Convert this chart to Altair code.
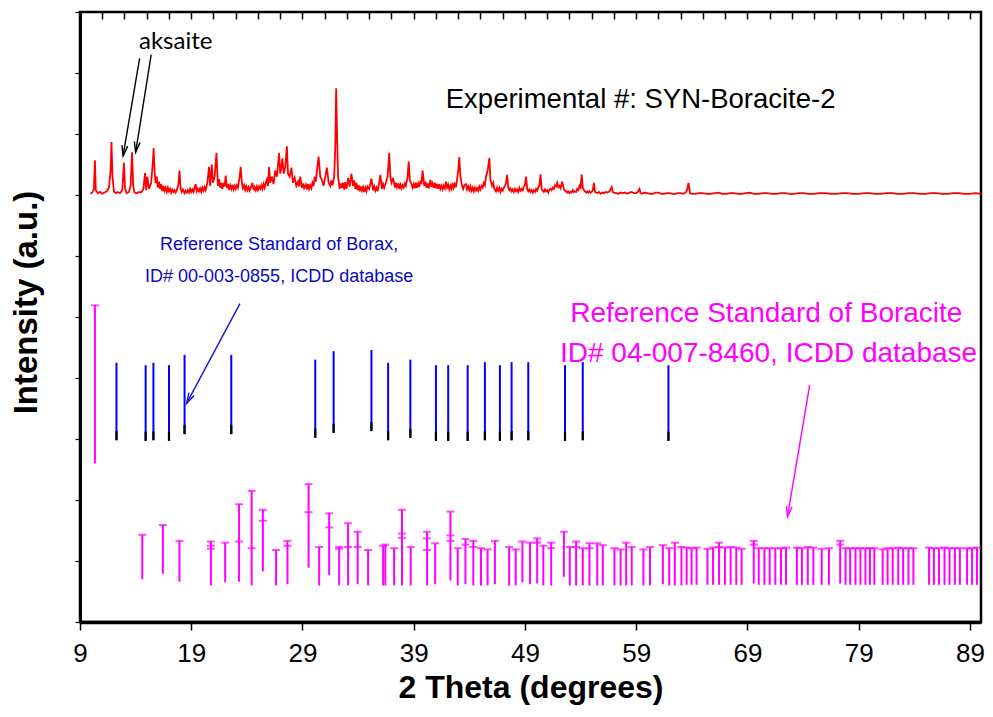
import math
import altair as alt
import pandas as pd

# ---------------- data ----------------
X_DOMAIN = [9, 90]
Y_DOMAIN = [0, 10]
x_major_ticks = [9, 19, 29, 39, 49, 59, 69, 79, 89]
x_minor_ticks = [9, 11, 13, 15, 17, 19, 21, 23, 25, 27, 29, 31, 33, 35, 37, 39, 41, 43, 45,
                 47, 49, 51, 53, 55, 57, 59, 61, 63, 65, 67, 69, 71, 73, 75, 77, 79, 81, 83,
                 85, 87, 89]
y_ticks = [0, 1, 2, 3, 4, 5, 6, 7, 8, 9, 10]

# experimental pattern (2theta, offset intensity)
exp_points = [
    (9.95, 7.02), (10.1, 7.04), (10.25, 7.10), (10.34, 7.57), (10.42, 7.08), (10.6, 7.03),
    (10.8, 7.05), (11.0, 7.02), (11.2, 7.04), (11.4, 7.06), (11.6, 7.12), (11.75, 7.40),
    (11.83, 7.87), (11.92, 7.30), (12.05, 7.06), (12.2, 7.03), (12.4, 7.05), (12.6, 7.03),
    (12.8, 7.08), (12.95, 7.53), (13.05, 7.10), (13.2, 7.03), (13.4, 7.05), (13.55, 7.15),
    (13.68, 7.70), (13.78, 7.15), (13.9, 7.04), (14.1, 7.03), (14.3, 7.05), (14.5, 7.04),
    (14.7, 7.10), (14.85, 7.36), (14.95, 7.08), (15.05, 7.30), (15.2, 7.10), (15.4, 7.20),
    (15.55, 7.55), (15.62, 7.77), (15.7, 7.40), (15.8, 7.20), (15.9, 7.30), (16.0, 7.12),
    (16.1, 7.22), (16.2, 7.10), (16.3, 7.18), (16.4, 7.06), (16.5, 7.15), (16.6, 7.07),
    (16.7, 7.12), (16.8, 7.05), (16.9, 7.12), (17.0, 7.06), (17.1, 7.10), (17.2, 7.04),
    (17.3, 7.09), (17.4, 7.05), (17.5, 7.08), (17.6, 7.04), (17.7, 7.08), (17.85, 7.18),
    (17.94, 7.40), (18.05, 7.10), (18.15, 7.05), (18.25, 7.09), (18.4, 7.03), (18.5, 7.07),
    (18.6, 7.04), (18.7, 7.08), (18.8, 7.04), (18.9, 7.10), (19.0, 7.05), (19.1, 7.09),
    (19.2, 7.05), (19.3, 7.12), (19.4, 7.18), (19.5, 7.06), (19.6, 7.10), (19.7, 7.06),
    (19.8, 7.11), (19.9, 7.05), (20.0, 7.12), (20.1, 7.07), (20.2, 7.13), (20.3, 7.08),
    (20.45, 7.20), (20.6, 7.46), (20.7, 7.15), (20.85, 7.50), (20.95, 7.20), (21.1, 7.30),
    (21.27, 7.69), (21.4, 7.15), (21.5, 7.26), (21.6, 7.12), (21.7, 7.20), (21.8, 7.10),
    (21.9, 7.20), (22.0, 7.14), (22.1, 7.32), (22.2, 7.12), (22.3, 7.18), (22.4, 7.08),
    (22.5, 7.16), (22.6, 7.10), (22.7, 7.17), (22.8, 7.09), (22.9, 7.15), (23.0, 7.10),
    (23.1, 7.16), (23.2, 7.12), (23.35, 7.30), (23.45, 7.46), (23.55, 7.20), (23.65, 7.11),
    (23.75, 7.16), (23.85, 7.08), (23.95, 7.14), (24.05, 7.08), (24.15, 7.13), (24.25, 7.07),
    (24.35, 7.12), (24.5, 7.20), (24.6, 7.08), (24.7, 7.13), (24.8, 7.08), (24.9, 7.14),
    (25.0, 7.08), (25.1, 7.14), (25.2, 7.10), (25.3, 7.16), (25.4, 7.10), (25.5, 7.18),
    (25.6, 7.12), (25.7, 7.20), (25.8, 7.25), (25.9, 7.15), (26.0, 7.46), (26.1, 7.20),
    (26.25, 7.30), (26.4, 7.18), (26.55, 7.40), (26.7, 7.30), (26.9, 7.69), (27.0, 7.35),
    (27.1, 7.45), (27.2, 7.60), (27.3, 7.35), (27.45, 7.45), (27.6, 7.80), (27.7, 7.35),
    (27.85, 7.30), (28.0, 7.45), (28.15, 7.20), (28.3, 7.28), (28.45, 7.15), (28.6, 7.22),
    (28.7, 7.14), (28.8, 7.30), (28.95, 7.12), (29.05, 7.19), (29.15, 7.11), (29.3, 7.17),
    (29.4, 7.09), (29.5, 7.18), (29.6, 7.10), (29.7, 7.16), (29.8, 7.11), (29.9, 7.20),
    (30.0, 7.15), (30.1, 7.30), (30.2, 7.22), (30.3, 7.40), (30.45, 7.63), (30.6, 7.30),
    (30.75, 7.25), (30.9, 7.15), (31.05, 7.30), (31.2, 7.45), (31.35, 7.20), (31.5, 7.15),
    (31.6, 7.24), (31.7, 7.16), (31.85, 7.30), (31.95, 7.80), (32.03, 8.75), (32.12, 7.90),
    (32.2, 7.30), (32.35, 7.10), (32.45, 7.19), (32.55, 7.12), (32.65, 7.20), (32.75, 7.09),
    (32.85, 7.21), (32.95, 7.10), (33.05, 7.20), (33.1, 7.28), (33.25, 7.14), (33.4, 7.35),
    (33.55, 7.15), (33.65, 7.24), (33.75, 7.10), (33.85, 7.20), (33.95, 7.08), (34.05, 7.16),
    (34.15, 7.06), (34.25, 7.14), (34.35, 7.07), (34.45, 7.13), (34.55, 7.05), (34.65, 7.12),
    (34.75, 7.06), (34.85, 7.14), (35.0, 7.10), (35.2, 7.27), (35.35, 7.08), (35.45, 7.14),
    (35.55, 7.07), (35.65, 7.12), (35.75, 7.06), (35.85, 7.15), (36.0, 7.33), (36.15, 7.10),
    (36.25, 7.18), (36.35, 7.12), (36.5, 7.20), (36.65, 7.30), (36.8, 7.69), (36.9, 7.30),
    (37.0, 7.20), (37.15, 7.28), (37.3, 7.12), (37.4, 7.20), (37.5, 7.13), (37.6, 7.19),
    (37.7, 7.10), (37.8, 7.17), (37.9, 7.11), (38.0, 7.16), (38.1, 7.12), (38.2, 7.19),
    (38.3, 7.15), (38.45, 7.30), (38.55, 7.55), (38.65, 7.25), (38.8, 7.18), (38.9, 7.12),
    (39.0, 7.18), (39.1, 7.11), (39.2, 7.20), (39.3, 7.12), (39.4, 7.19), (39.5, 7.13),
    (39.6, 7.22), (39.7, 7.20), (39.8, 7.40), (39.95, 7.15), (40.05, 7.22), (40.15, 7.12),
    (40.25, 7.19), (40.35, 7.11), (40.5, 7.25), (40.6, 7.13), (40.7, 7.19), (40.8, 7.12),
    (40.9, 7.20), (41.0, 7.11), (41.1, 7.18), (41.2, 7.10), (41.3, 7.18), (41.4, 7.10),
    (41.5, 7.15), (41.6, 7.09), (41.7, 7.15), (41.8, 7.11), (41.9, 7.22), (42.0, 7.12),
    (42.1, 7.17), (42.2, 7.09), (42.3, 7.15), (42.4, 7.10), (42.5, 7.20), (42.6, 7.12),
    (42.7, 7.18), (42.8, 7.13), (42.9, 7.25), (43.0, 7.40), (43.1, 7.62), (43.2, 7.30),
    (43.35, 7.15), (43.45, 7.10), (43.55, 7.16), (43.7, 7.18), (43.8, 7.09), (43.9, 7.14),
    (44.0, 7.08), (44.1, 7.14), (44.2, 7.07), (44.3, 7.12), (44.4, 7.06), (44.5, 7.12),
    (44.6, 7.07), (44.7, 7.11), (44.8, 7.07), (44.9, 7.14), (45.0, 7.09), (45.1, 7.15),
    (45.2, 7.12), (45.3, 7.20), (45.4, 7.16), (45.5, 7.30), (45.65, 7.40), (45.8, 7.61),
    (45.9, 7.25), (46.05, 7.15), (46.15, 7.20), (46.25, 7.10), (46.4, 7.06), (46.5, 7.12),
    (46.6, 7.07), (46.7, 7.12), (46.8, 7.05), (46.9, 7.10), (47.0, 7.07), (47.1, 7.12),
    (47.2, 7.15), (47.3, 7.20), (47.4, 7.33), (47.5, 7.12), (47.6, 7.08), (47.7, 7.11),
    (47.8, 7.06), (47.9, 7.09), (48.0, 7.05), (48.1, 7.10), (48.2, 7.06), (48.3, 7.09),
    (48.4, 7.05), (48.5, 7.12), (48.6, 7.07), (48.7, 7.10), (48.8, 7.08), (48.9, 7.14),
    (49.0, 7.16), (49.1, 7.30), (49.2, 7.10), (49.3, 7.06), (49.4, 7.09), (49.5, 7.05),
    (49.6, 7.08), (49.7, 7.04), (49.8, 7.08), (49.9, 7.05), (50.0, 7.10), (50.1, 7.07),
    (50.2, 7.12), (50.3, 7.16), (50.4, 7.34), (50.5, 7.10), (50.6, 7.07), (50.7, 7.05),
    (50.8, 7.09), (50.9, 7.06), (51.0, 7.08), (51.1, 7.04), (51.2, 7.09), (51.3, 7.10),
    (51.4, 7.08), (51.5, 7.12), (51.6, 7.10), (51.7, 7.16), (51.8, 7.14), (51.9, 7.20),
    (52.0, 7.13), (52.1, 7.15), (52.2, 7.11), (52.35, 7.22), (52.5, 7.10), (52.6, 7.07),
    (52.7, 7.06), (52.8, 7.04), (52.9, 7.06), (53.0, 7.03), (53.1, 7.05), (53.2, 7.04),
    (53.3, 7.08), (53.4, 7.05), (53.5, 7.06), (53.6, 7.05), (53.7, 7.10), (53.8, 7.08),
    (53.9, 7.15), (54.0, 7.12), (54.1, 7.34), (54.2, 7.12), (54.3, 7.08), (54.4, 7.06),
    (54.5, 7.04), (54.6, 7.06), (54.7, 7.04), (54.8, 7.06), (54.9, 7.04), (55.0, 7.05),
    (55.1, 7.08), (55.2, 7.20), (55.3, 7.05), (55.4, 7.04), (55.5, 7.03), (55.65, 7.05),
    (55.8, 7.02), (55.95, 7.04), (56.1, 7.03), (56.25, 7.05), (56.4, 7.04), (56.6, 7.06),
    (56.8, 7.13), (56.9, 7.05), (57.0, 7.04), (57.2, 7.03), (57.4, 7.02), (57.6, 7.04),
    (57.8, 7.03), (58.0, 7.04), (58.2, 7.02), (58.4, 7.04), (58.6, 7.05), (58.8, 7.03),
    (59.0, 7.03), (59.15, 7.05), (59.3, 7.10), (59.4, 7.03), (59.5, 7.02), (59.75, 7.04),
    (60.0, 7.03), (60.25, 7.02), (60.5, 7.02), (60.75, 7.04), (61.0, 7.04), (61.25, 7.02),
    (61.5, 7.02), (61.75, 7.03), (62.0, 7.03), (62.25, 7.02), (62.5, 7.02), (62.75, 7.03),
    (63.0, 7.03), (63.25, 7.02), (63.5, 7.05), (63.6, 7.10), (63.7, 7.20), (63.85, 7.03),
    (64.05, 7.02), (64.3, 7.02), (64.65, 7.03), (65.0, 7.03), (65.35, 7.02), (65.7, 7.02),
    (66.05, 7.03), (66.4, 7.04), (66.75, 7.02), (67.1, 7.02), (67.45, 7.03), (67.8, 7.03),
    (68.15, 7.02), (68.5, 7.02), (68.85, 7.03), (69.2, 7.04), (69.6, 7.02), (70.0, 7.02),
    (70.4, 7.03), (70.8, 7.03), (71.2, 7.02), (71.6, 7.02), (72.0, 7.03), (72.4, 7.03),
    (72.8, 7.02), (73.2, 7.02), (73.6, 7.03), (74.0, 7.03), (74.5, 7.02), (75.0, 7.02),
    (75.5, 7.03), (76.0, 7.03), (76.5, 7.02), (77.0, 7.02), (77.5, 7.03), (78.0, 7.03),
    (78.5, 7.02), (79.0, 7.02), (79.5, 7.03), (80.0, 7.03), (80.5, 7.02), (81.0, 7.02),
    (81.5, 7.03), (82.0, 7.03), (82.5, 7.02), (83.0, 7.02), (83.5, 7.03), (84.0, 7.03),
    (84.5, 7.02), (85.0, 7.02), (85.5, 7.03), (86.0, 7.03), (86.5, 7.02), (87.0, 7.02),
    (87.5, 7.03), (88.0, 7.03), (88.5, 7.02), (89.0, 7.02), (89.5, 7.03), (90.0, 7.02),
]

# Borax reference sticks (2theta, top, bottom)
borax_sticks = [
    (12.28, 4.25, 2.98), (14.9, 4.21, 2.97), (15.6, 4.25, 2.98), (17.0, 4.21, 2.97),
    (18.4, 4.38, 3.08), (22.6, 4.38, 3.08), (30.15, 4.30, 3.02), (31.8, 4.44, 3.10),
    (35.2, 4.46, 3.13), (36.7, 4.25, 2.98), (38.7, 4.30, 3.02), (41.0, 4.21, 2.97),
    (42.1, 4.21, 2.97), (43.85, 4.21, 2.97), (45.4, 4.26, 2.98), (46.75, 4.21, 2.97),
    (47.8, 4.26, 2.98), (49.3, 4.26, 2.98), (52.6, 4.21, 2.97), (54.2, 4.26, 2.98),
    (61.9, 4.21, 2.97),
]

# Boracite reference sticks (2theta, top, bottom)
boracite_sticks = [
    (10.34, 5.19, 2.60), (14.6, 1.43, 0.70), (16.45, 1.59, 0.79), (17.94, 1.33, 0.66),
    (20.77, 1.32, 0.60), (22.05, 1.30, 0.65), (23.3, 1.93, 0.66), (24.43, 2.15, 0.60),
    (25.44, 1.84, 0.83), (26.63, 1.18, 0.60), (27.65, 1.33, 0.62), (29.55, 2.26, 0.89),
    (30.5, 1.23, 0.60), (31.4, 1.78, 0.77), (32.3, 1.23, 0.60), (33.1, 1.62, 0.60),
    (33.96, 1.48, 0.62), (34.9, 1.18, 0.60), (36.25, 1.25, 0.60), (36.45, 1.27, 0.60),
    (37.24, 1.21, 0.60), (37.95, 1.84, 0.60), (38.73, 1.23, 0.60), (40.2, 1.48, 0.60),
    (40.93, 1.29, 0.62), (42.3, 1.81, 0.68), (42.96, 1.21, 0.60), (43.65, 1.36, 0.62),
    (44.36, 1.33, 0.60), (45.05, 1.21, 0.60), (45.64, 1.19, 0.60), (46.3, 1.33, 0.62),
    (47.58, 1.23, 0.60), (48.17, 1.19, 0.60), (48.77, 1.32, 0.65), (49.46, 1.30, 0.62),
    (50.1, 1.37, 0.63), (50.65, 1.25, 0.60), (51.36, 1.30, 0.60), (52.5, 1.48, 0.74),
    (53.03, 1.23, 0.60), (53.6, 1.32, 0.60), (54.2, 1.21, 0.60), (54.8, 1.29, 0.60),
    (55.5, 1.29, 0.60), (56.0, 1.26, 0.60), (57.05, 1.21, 0.60), (57.6, 1.19, 0.60),
    (58.1, 1.30, 0.60), (58.6, 1.23, 0.60), (59.65, 1.19, 0.60), (60.24, 1.23, 0.60),
    (61.4, 1.26, 0.62), (61.97, 1.21, 0.60), (62.47, 1.30, 0.60), (63.07, 1.23, 0.60),
    (63.54, 1.22, 0.61), (63.98, 1.21, 0.61), (64.43, 1.22, 0.61), (65.41, 1.20, 0.61),
    (65.91, 1.22, 0.61), (66.45, 1.30, 0.61), (66.98, 1.22, 0.61), (67.49, 1.23, 0.61),
    (68.0, 1.22, 0.61), (68.48, 1.20, 0.61), (69.57, 1.33, 0.63), (70.02, 1.21, 0.61),
    (70.53, 1.21, 0.61), (71.0, 1.21, 0.61), (71.51, 1.21, 0.61), (72.02, 1.21, 0.61),
    (72.47, 1.22, 0.61), (73.45, 1.22, 0.61), (73.9, 1.21, 0.61), (74.43, 1.23, 0.61),
    (74.93, 1.22, 0.61), (75.68, 1.20, 0.61), (76.33, 1.21, 0.61), (77.34, 1.33, 0.63),
    (77.82, 1.21, 0.61), (78.24, 1.21, 0.61), (78.72, 1.21, 0.61), (79.16, 1.21, 0.61),
    (79.61, 1.21, 0.61), (80.02, 1.21, 0.61), (80.41, 1.21, 0.61), (81.16, 1.19, 0.61),
    (81.6, 1.21, 0.61), (82.06, 1.21, 0.61), (82.56, 1.22, 0.61), (83.0, 1.21, 0.61),
    (83.48, 1.21, 0.61), (83.92, 1.21, 0.61), (85.33, 1.22, 0.61), (85.77, 1.21, 0.61),
    (86.22, 1.21, 0.61), (86.72, 1.22, 0.61), (87.17, 1.21, 0.61), (87.65, 1.21, 0.61),
    (88.1, 1.21, 0.61), (88.75, 1.21, 0.61), (89.2, 1.21, 0.61), (89.64, 1.22, 0.61),
]

# secondary (overlapping) reflection caps on boracite sticks
boracite_mid_caps = [
    (20.77, 1.25), (20.77, 1.20), (23.3, 1.32), (24.43, 1.21), (25.44, 1.66), (27.65, 1.25),
    (29.55, 1.80), (31.4, 1.55), (32.3, 1.20), (33.1, 1.23), (33.96, 1.23), (37.95, 1.45),
    (37.95, 1.38), (40.2, 1.37), (40.2, 1.18), (42.3, 1.42), (42.3, 1.33), (43.65, 1.27),
    (44.36, 1.23), (50.1, 1.30), (51.36, 1.21), (53.6, 1.23), (54.8, 1.21), (66.45, 1.23),
    (69.57, 1.27), (77.34, 1.27),
]

# annotation texts: (text, x, y)
aksaite_label = [("aksaite", 17.6, 9.51)]
exp_label = [("Experimental #: SYN-Boracite-2", 59.4, 8.56)]
borax_label = [("Reference Standard of Borax,", 26.9, 6.18),
               ("ID#  00-003-0855, ICDD database", 26.9, 5.66)]
boracite_label = [("Reference Standard of  Boracite", 70.7, 5.05),
                  ("ID# 04-007-8460,  ICDD database", 70.9, 4.39)]

# annotation arrows: (x_start, y_start, x_end, y_end, colour)
arrows = [
    (14.36, 9.24, 12.87, 7.64, "black"),
    (15.40, 9.30, 14.00, 7.70, "black"),
    (23.38, 5.22, 18.58, 3.585, "#1414D2"),
    (74.6, 3.885, 72.6, 1.726, "#FF00FF"),
]

# ---------------- build ----------------
W, H = 901, 610
px_x = W / (X_DOMAIN[1] - X_DOMAIN[0])
px_y = H / (Y_DOMAIN[1] - Y_DOMAIN[0])

exp_df = pd.DataFrame(exp_points, columns=["tt", "I"])
borax_df = pd.DataFrame(borax_sticks, columns=["tt", "top", "bottom"])
borax_df["black_top"] = borax_df["bottom"] + 0.15
bor_df = pd.DataFrame(boracite_sticks, columns=["tt", "top", "bottom"])
caps_df = pd.concat([bor_df[["tt", "top"]].rename(columns={"top": "cap"}),
                     pd.DataFrame(boracite_mid_caps, columns=["tt", "cap"])],
                    ignore_index=True)
arr_df = pd.DataFrame(arrows, columns=["x1", "y1", "x2", "y2", "col"])
arr_df["ang"] = [
    math.degrees(math.atan2((r.x2 - r.x1) * px_x, (r.y2 - r.y1) * px_y)) % 360
    for r in arr_df.itertuples()
]

xs = alt.Scale(domain=X_DOMAIN, nice=False, zero=False)
ys = alt.Scale(domain=Y_DOMAIN, nice=False, zero=False)

x_axis = alt.Axis(values=x_major_ticks, title="2 Theta (degrees)", grid=False,
                  labelFontSize=26, labelFont="Liberation Sans", labelColor="black",
                  labelFlush=False, labelOverlap=False,
                  labelPadding=10, tickSize=8, tickWidth=1.5, tickColor="black",
                  domainColor="black", domainWidth=3.5, titleFontSize=32,
                  titleFont="Liberation Sans", titleFontWeight="bold", titleColor="black",
                  titlePadding=6)
y_axis = alt.Axis(values=y_ticks, title="Intensity (a.u.)", grid=False, labels=False,
                  tickSize=5, tickWidth=1.2, tickColor="black", domainColor="black",
                  domainWidth=3, titleFontSize=33, titleFont="Liberation Sans",
                  titleFontWeight="bold", titleColor="black", titleAngle=270,
                  titleX=-54, titleY=290, titleAlign="center", titleBaseline="middle")

X = lambda f: alt.X(f, type="quantitative", scale=xs, axis=x_axis)
Y = lambda f: alt.Y(f, type="quantitative", scale=ys, axis=y_axis)

exp_line = alt.Chart(exp_df).mark_line(color="#FF0000", strokeWidth=1.8).encode(
    x=X("tt"), y=Y("I"))

borax_rules = alt.Chart(borax_df).mark_rule(color="#0000FF", strokeWidth=2).encode(
    x=X("tt"), y=Y("bottom"), y2="top")
borax_black = alt.Chart(borax_df).mark_rule(color="black", strokeWidth=2.2).encode(
    x=X("tt"), y=Y("bottom"), y2="black_top")

bor_rules = alt.Chart(bor_df).mark_rule(color="#FF00FF", strokeWidth=2).encode(
    x=X("tt"), y=Y("bottom"), y2="top")
bor_caps = alt.Chart(caps_df).mark_tick(color="#FF00FF", orient="horizontal", size=8,
                                         thickness=2).encode(x=X("tt"), y=Y("cap"))


def text_layer(rows, color, size, font):
    df = pd.DataFrame(rows, columns=["label", "x", "y"])
    return alt.Chart(df).mark_text(color=color, fontSize=size, font=font, align="center",
                                   baseline="middle").encode(
        x=X("x"), y=Y("y"), text="label:N")


t_aks = text_layer(aksaite_label, "black", 24, "Lato, Open Sans")
t_exp = text_layer(exp_label, "black", 27.5, "Liberation Sans")
t_borax = text_layer(borax_label, "#0A0AC0", 18, "Liberation Sans")
t_bor = text_layer(boracite_label, "#FF00FF", 28, "Liberation Sans")

arr_lines = alt.Chart(arr_df).mark_rule(strokeWidth=1.4).encode(
    x=X("x1"), y=Y("y1"), x2="x2", y2="y2", color=alt.Color("col:N", scale=None))
arr_heads = alt.Chart(arr_df).mark_point(shape="M-0.55,2L0,0L0.55,2", filled=False,
                                         size=110, strokeWidth=1.4, opacity=1).encode(
    x=X("x2"), y=Y("y2"), angle=alt.Angle("ang:Q", scale=None),
    color=alt.Color("col:N", scale=None))

main = alt.layer(exp_line, borax_rules, borax_black, bor_rules, bor_caps,
                 t_aks, t_exp, t_borax, t_bor, arr_lines, arr_heads)

minor_df = pd.DataFrame({"t": x_minor_ticks})
minor = alt.Chart(minor_df).mark_rule(opacity=0).encode(
    x=alt.X("t:Q", scale=alt.Scale(domain=X_DOMAIN, nice=False, zero=False),
            axis=alt.Axis(values=x_minor_ticks, labels=False, domain=False, grid=False,
                          tickSize=7, tickWidth=1.5, tickColor="black", offset=-7,
                          title=None)))

chart = alt.layer(main, minor).resolve_scale(x="independent").properties(
    width=W, height=H,
    autosize=alt.AutoSizeParams(type="none"),
    padding={"left": 72, "top": 4, "right": 4, "bottom": 86},
    background="white",
).configure_view(stroke="black", strokeWidth=2.5)

chart.save("out.html", embed_options={"renderer": "svg", "actions": False})
